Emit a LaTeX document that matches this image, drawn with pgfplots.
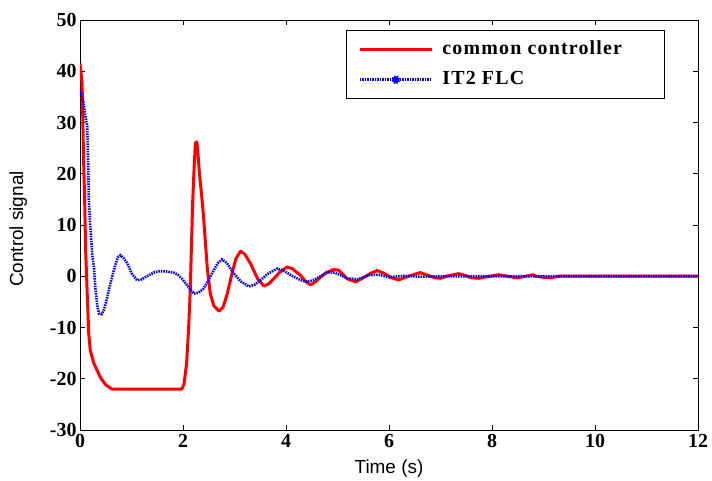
\documentclass[border=0pt]{standalone}
\usepackage{fontspec}
\setmainfont{Liberation Serif}
\newfontfamily\arial{Liberation Sans}
\newfontfamily\legfont[LetterSpace=6]{Liberation Serif}
\usepackage{pgfplots}
\pgfplotsset{compat=1.18}
\pgfplotsset{
  linelegend/.style={legend image code/.code={\draw[##1] (0bp,0bp) -- (72bp,0bp);}},
  dotlegend/.style={legend image code/.code={\draw[##1] (0bp,0bp) -- (72bp,0bp); \fill[blue] (36bp,0bp) circle (3.2bp);}},
}
\begin{document}
\begin{tikzpicture}
\begin{axis}[name=ax,
  scale only axis, width=618bp, height=410bp,
  xmin=0, xmax=12, ymin=-30, ymax=50,
  xtick={0,2,...,12}, ytick={-30,-20,...,50},
  tick align=inside, major tick length=5bp,
  tick style={black, line width=0.7pt},
  axis line style={black, line width=0.9pt},
  /pgf/number format/assume math mode=true,
  ticklabel style={font=\bfseries\fontsize{20}{20}\selectfont},
  xticklabel style={yshift=-1bp},
  yticklabel style={xshift=0bp},
  xlabel={Time (s)}, ylabel={Control signal},
  xlabel style={font=\arial\fontsize{19}{19}\selectfont, at={(axis description cs:0.5,0)}, anchor=center, yshift=-39bp},
  ylabel style={font=\arial\fontsize{19}{19}\selectfont, at={(axis description cs:-0.1,0.49)}, anchor=center},
  legend style={at={(axis cs:11.35,48)}, anchor=north east, draw=black, line width=0.9pt,
    font=\legfont\bfseries\fontsize{20}{20}\selectfont, inner xsep=12bp, inner ysep=7bp,
    nodes={inner sep=3bp, text height=14bp, text depth=4bp},
    /tikz/every odd column/.append style={column sep=6bp},
    row sep=6bp},
  legend cell align=left,
  linelegend,
]
\addplot[red, line width=3bp, line join=round] coordinates {
(0,41.5) (0.04,37.8) (0.07,22.7) (0.09,15) (0.11,5) (0.14,-3.3) (0.17,-11.2) (0.2,-14.5)
(0.27,-17) (0.4,-19.8) (0.5,-21.2) (0.62,-22) (1.98,-22) (2.02,-21) (2.07,-17) (2.11,-10)
(2.14,-3) (2.17,8) (2.19,15) (2.22,22) (2.24,26) (2.27,26.2) (2.29,24) (2.32,20) (2.36,16)
(2.40,11.5) (2.44,6) (2.47,1.8) (2.53,-3.4) (2.6,-5.8) (2.7,-6.8) (2.78,-6) (2.86,-3.4)
(2.95,0.5) (3.03,3.5) (3.12,4.9) (3.2,4.3) (3.31,2.5) (3.45,-0.5) (3.57,-1.9) (3.66,-1.5)
(3.76,-0.5) (3.88,0.8) (4.02,1.8) (4.12,1.5) (4.28,0.2) (4.38,-1.0) (4.48,-1.7) (4.58,-1.0)
(4.67,-0.2) (4.8,0.8) (4.93,1.3) (5.02,1.2) (5.19,-0.5) (5.35,-1.1) (5.5,-0.3) (5.65,0.6)
(5.77,1.1) (5.9,0.6) (6.05,-0.3) (6.19,-0.7) (6.35,-0.1) (6.5,0.4) (6.61,0.7) (6.75,0.2)
(6.9,-0.3) (7.0,-0.4) (7.15,0.1) (7.35,0.5) (7.5,0.1) (7.6,-0.3) (7.74,-0.4) (7.9,-0.1)
(8.13,0.3) (8.3,0.0) (8.49,-0.3) (8.65,0.0) (8.8,0.3) (8.85,0.0) (9.0,-0.2) (9.14,-0.3)
(9.3,0) (12,0)
};
\addlegendentry{common controller\hspace*{27bp}}
\addplot[blue, line width=2.6bp, dash pattern=on 1.5bp off 1bp, dotlegend]
coordinates {
(0,36.5) (0.03,35) (0.07,33.9) (0.1,31.5) (0.14,29.3) (0.16,22) (0.17,15) (0.2,9.7)
(0.24,4) (0.27,1.8) (0.3,-2.5) (0.34,-6) (0.37,-7.3) (0.42,-7.4) (0.46,-6.7) (0.52,-4.5)
(0.59,-1.4) (0.68,2) (0.74,3.8) (0.79,4.1) (0.85,3.5) (0.92,2.5) (1.0,0.6) (1.11,-0.8)
(1.2,-0.6) (1.30,0) (1.45,0.8) (1.56,1.0) (1.7,0.9) (1.82,0.7) (1.9,0.3) (1.98,-0.5)
(2.1,-2) (2.21,-3.4) (2.3,-3.2) (2.40,-2.4) (2.5,-0.7) (2.60,1.2) (2.68,2.6) (2.76,3.3)
(2.85,2.6) (2.99,0.5) (3.12,-1.0) (3.28,-2.0) (3.4,-1.6) (3.5,-0.8) (3.65,0.5) (3.83,1.5)
(3.95,1.1) (4.15,-0.1) (4.3,-0.8) (4.41,-1.1) (4.55,-0.7) (4.8,0.8) (4.95,0.7) (5.19,-0.4)
(5.4,-0.6) (5.6,0.2) (5.8,0.3) (6.0,-0.2) (6.3,0.1) (6.6,-0.1) (7,0) (12,0)
};
\addlegendentry{IT2 FLC}
\end{axis}
\pgfresetboundingbox
\path ([xshift=-80bp,yshift=-51bp]ax.south west) rectangle ([xshift=14bp,yshift=20bp]ax.north east);
\end{tikzpicture}
\end{document}
